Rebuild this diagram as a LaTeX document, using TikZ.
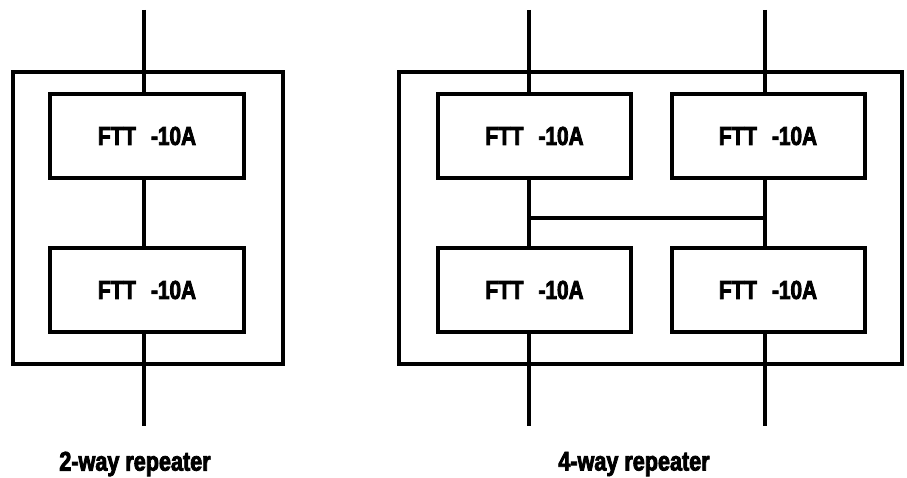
\documentclass[tikz,border=0pt]{standalone}
\usepackage{fontspec}
\setmainfont{Liberation Sans}[FakeStretch=0.8,BoldFeatures={FakeBold=3}]
\begin{document}
\begin{tikzpicture}[x=1pt,y=-1pt,
  wire/.style={line width=4pt,line cap=butt},
  frame/.style={draw,line width=4pt,rectangle,inner sep=0pt},
  unit/.style={draw,line width=4pt,rectangle,inner sep=0pt,fill=white,
    minimum width=193pt,minimum height=84pt,font=\fontsize{26}{28}\selectfont\bfseries},
  caption/.style={font=\fontsize{27}{29}\selectfont\bfseries,inner sep=0pt}]
\useasboundingbox (0,0) rectangle (907,478);
\def\ftt{FTT\hspace{15pt}-10A}
% enclosures
\node[frame,minimum width=270.5pt,minimum height=292pt] (encL) at (147.75,218) {};
\node[frame,minimum width=503pt,minimum height=292pt] (encR) at (650.5,218) {};
% bus ends
\coordinate (topL) at (144,10);
\coordinate (botL) at (144,426);
\coordinate (topA) at (529,10);
\coordinate (botA) at (529,426);
\coordinate (topB) at (765,10);
\coordinate (botB) at (765,426);
% wires drawn beneath the units
\draw[wire] (topL) -- (botL);
\draw[wire] (topA) -- (botA);
\draw[wire] (topB) -- (botB);
\coordinate (linkA) at (529,218);
\coordinate (linkB) at (765,218);
\draw[wire] (linkA) -- (linkB);
% 2-way repeater units
\node[unit,minimum width=194pt] (l1) at (147,136) {\ftt};
\node[unit,minimum width=194pt] (l2) at (147,290) {\ftt};
% 4-way repeater units
\node[unit] (a1) at (534.5,136) {\ftt};
\node[unit] (b1) at (768,136) {\ftt};
\node[unit] (a2) at (534.5,290) {\ftt};
\node[unit] (b2) at (768,290) {\ftt};
% captions
\node[caption] (capL) at (135,464) {2-way repeater};
\node[caption] (capR) at (634,464) {4-way repeater};
\end{tikzpicture}
\end{document}
